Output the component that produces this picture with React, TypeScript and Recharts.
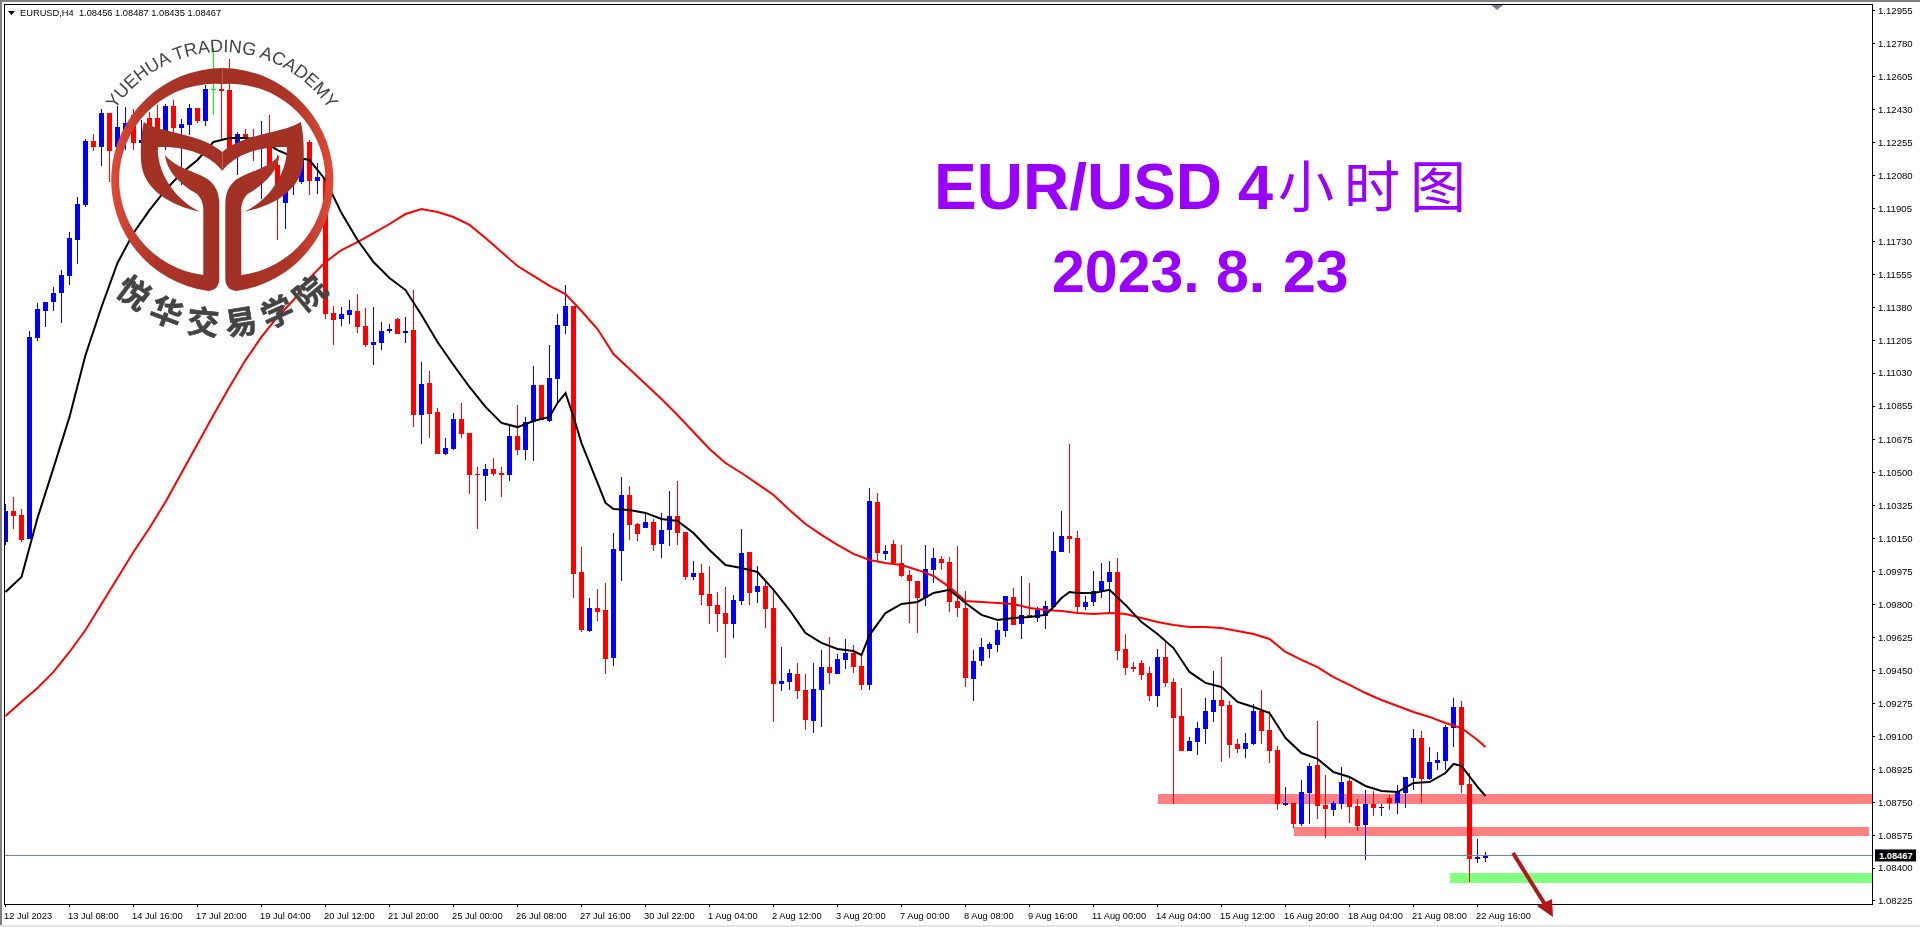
import { Bar, ComposedChart, Line, ReferenceArea, ReferenceLine, XAxis, YAxis } from "recharts";

// EURUSD H4, prices in points (1.08467 = 108467)
const open = [
  110132, 110297, 110276, 110148, 111216, 111360, 111408, 111455, 111546, 111737,
  111923, 112263, 112231, 112412, 112231, 112268, 112401, 112252, 112385, 112385,
  112268, 112449, 112332, 112348, 112438, 112369, 112539, 112539, 112534, 112242,
  112300, 112284, 112242, 112268, 112135, 111934, 112109, 112045, 112258, 112050,
  112066, 111349, 111317, 111339, 111360, 111280, 111179, 111190, 111253, 111317,
  111243, 111259, 110807, 110977, 110823, 110600, 110627, 110786, 110712, 110494,
  110483, 110520, 110499, 110488, 110696, 110621, 110770, 110967, 110775, 110999,
  111280, 111386, 109973, 109660, 109782, 109771, 109516, 110085, 110382, 110228,
  110207, 110239, 110122, 110196, 110271, 110186, 109947, 109968, 109856, 109798,
  109755, 109697, 109819, 110079, 109867, 109899, 109782, 109378, 109389, 109431,
  109346, 109182, 109346, 109468, 109431, 109506, 109543, 109474, 109373, 110345,
  110069, 110122, 110021, 109957, 109925, 109835, 109984, 110042, 110026, 109819,
  109782, 109405, 109500, 109564, 109585, 109660, 109840, 109697, 109745, 109729,
  109739, 109787, 110079, 110164, 110154, 109787, 109814, 109867, 109920, 109973,
  109564, 109468, 109490, 109437, 109314, 109521, 109389, 109208, 109022, 109070,
  109139, 109229, 109293, 109267, 109059, 109033, 109059, 109235, 109134, 109027,
  108735, 108746, 108634, 108799, 108948, 108735, 108709, 108741, 108863, 108730,
  108629, 108741, 108719, 108772, 108746, 108799, 108879, 109091, 108873, 108959,
  108969, 109144, 109256, 108847, 108448, 108456,
];
const high = [
  110334, 110372, 110308, 111253, 111402, 111408, 111487, 111578, 111779, 111965,
  112274, 112300, 112433, 112412, 112449, 112444, 112433, 112374, 112417, 112454,
  112460, 112481, 112380, 112460, 112438, 112560, 112757, 112603, 112699, 112311,
  112327, 112327, 112369, 112401, 112189, 112135, 112215, 112215, 112268, 112146,
  112082, 111386, 111381, 111418, 111450, 111376, 111381, 111301, 111291, 111323,
  111328, 111471, 111089, 111041, 110844, 110685, 110818, 110871, 110712, 110531,
  110547, 110579, 110531, 110749, 110860, 110797, 111068, 110967, 111179, 111344,
  111498, 111386, 110106, 109835, 109883, 109915, 110180, 110478, 110430, 110233,
  110287, 110255, 110287, 110403, 110457, 110186, 110032, 110016, 110005, 109867,
  109893, 109851, 110202, 110079, 110005, 109925, 109878, 109575, 109458, 109490,
  109431, 109490, 109559, 109628, 109537, 109617, 109585, 109532, 110419, 110393,
  110117, 110143, 110117, 109984, 109925, 110117, 110101, 110058, 110053, 110111,
  109872, 109559, 109623, 109601, 109707, 109846, 109888, 109952, 109915, 109787,
  109819, 110186, 110297, 110653, 110191, 109846, 109979, 110021, 110032, 110047,
  109644, 109495, 109506, 109468, 109564, 109607, 109410, 109357, 109097, 109176,
  109304, 109447, 109521, 109288, 109086, 109118, 109272, 109346, 109235, 109049,
  108831, 108746, 108868, 108959, 109182, 108895, 108756, 108937, 108889, 108767,
  108815, 108810, 108741, 108788, 108842, 108884, 109139, 109128, 109043, 109017,
  109160, 109304, 109288, 108905, 108555, 108487,
];
const low = [
  110117, 110202, 110132, 110148, 111200, 111275, 111360, 111296, 111498, 111609,
  111912, 112210, 112130, 112045, 112109, 112215, 112215, 112215, 112258, 112215,
  112215, 112295, 112029, 112295, 112359, 112343, 112401, 112268, 112162, 112082,
  112215, 112157, 111955, 112082, 111737, 111795, 111976, 112034, 111976, 111981,
  111317, 111179, 111280, 111291, 111243, 111168, 111073, 111153, 111243, 111238,
  111190, 110743, 110653, 110685, 110600, 110595, 110621, 110685, 110388, 110202,
  110350, 110483, 110372, 110457, 110595, 110568, 110563, 110781, 110770, 110876,
  111238, 109835, 109654, 109654, 109713, 109431, 109474, 109925, 110143, 110138,
  110207, 110085, 110047, 110111, 110117, 109931, 109931, 109798, 109697, 109654,
  109516, 109623, 109798, 109798, 109808, 109676, 109176, 109341, 109346, 109298,
  109134, 109118, 109150, 109378, 109431, 109458, 109437, 109346, 109346, 110032,
  110037, 110016, 109947, 109702, 109649, 109793, 109915, 109984, 109761, 109734,
  109362, 109288, 109474, 109516, 109548, 109628, 109692, 109617, 109734, 109707,
  109670, 109787, 110079, 110074, 109761, 109771, 109793, 109835, 109761, 109506,
  109426, 109442, 109399, 109288, 109256, 109362, 108741, 109022, 109022, 109001,
  109059, 109176, 108964, 108985, 109011, 108985, 109054, 109059, 108959, 108709,
  108730, 108613, 108624, 108634, 108661, 108560, 108677, 108714, 108640, 108597,
  108443, 108677, 108677, 108709, 108688, 108719, 108815, 108746, 108868, 108921,
  108921, 109043, 108799, 108326, 108427, 108435,
];
const close = [
  110297, 110271, 110143, 111222, 111370, 111408, 111455, 111551, 111748, 111928,
  112263, 112231, 112412, 112210, 112337, 112359, 112252, 112268, 112295, 112321,
  112449, 112332, 112353, 112438, 112369, 112539, 112539, 112529, 112215, 112300,
  112279, 112258, 112295, 112135, 111992, 112109, 112173, 112173, 112050, 112072,
  111344, 111312, 111344, 111365, 111275, 111179, 111195, 111253, 111264, 111238,
  111253, 110807, 110972, 110813, 110600, 110632, 110786, 110706, 110488, 110488,
  110520, 110494, 110488, 110696, 110621, 110770, 110967, 110781, 111004, 111285,
  111386, 109962, 109665, 109782, 109761, 109511, 110095, 110382, 110223, 110175,
  110239, 110117, 110196, 110271, 110180, 109947, 109968, 109851, 109793, 109750,
  109697, 109824, 110074, 109862, 109899, 109777, 109378, 109394, 109437, 109341,
  109187, 109351, 109468, 109437, 109511, 109543, 109468, 109373, 110350, 110074,
  110085, 110021, 109952, 109925, 109835, 109989, 110047, 110021, 109814, 109782,
  109410, 109500, 109575, 109591, 109665, 109846, 109692, 109745, 109734, 109771,
  109793, 110085, 110164, 110148, 109787, 109814, 109872, 109925, 109973, 109553,
  109463, 109458, 109426, 109314, 109521, 109384, 109197, 109022, 109075, 109144,
  109235, 109293, 109261, 109054, 109033, 109065, 109235, 109128, 109022, 108741,
  108746, 108634, 108804, 108943, 108730, 108714, 108746, 108857, 108725, 108624,
  108741, 108719, 108725, 108746, 108804, 108884, 109091, 108873, 108964, 108974,
  109150, 109256, 108842, 108448, 108459, 108467,
];

// moving averages, read every other bar plus the turning points
const fastBars = [
  0, 2, 4, 6, 8, 10, 12, 14, 16, 18, 20, 22, 24, 26, 28, 30, 32, 34, 36, 38, 40, 42, 44, 46, 48,
  50, 52, 54, 56, 58, 60, 62, 64, 66, 68, 69, 70, 71, 72, 74, 75, 76, 78, 80, 82, 84, 86, 88, 90,
  92, 94, 96, 98, 100, 102, 104, 106, 107, 108, 110, 112, 114, 116, 118, 120, 122, 124, 126, 128,
  130, 131, 132, 133, 134, 136, 138, 140, 142, 144, 146, 148, 150, 152, 154, 156, 158, 160, 162,
  164, 166, 168, 170, 172, 174, 176, 178, 180, 181, 182, 184, 185,
];
const fastMa = [
  109867, 109947, 110260, 110526, 110797, 111126, 111381, 111615, 111774, 111896, 112003, 112093,
  112162, 112258, 112279, 112279, 112268, 112215, 112178, 112162, 112056, 111880, 111737, 111620,
  111535, 111471, 111339, 111195, 111073, 110956, 110850, 110765, 110743, 110775, 110797, 110871,
  110924, 110797, 110658, 110446, 110340, 110308, 110303, 110287, 110255, 110244, 110180, 110090,
  110010, 109994, 109973, 109878, 109771, 109649, 109596, 109564, 109553, 109532, 109638, 109755,
  109803, 109814, 109862, 109878, 109808, 109745, 109718, 109729, 109734, 109745, 109787, 109835,
  109867, 109862, 109862, 109878, 109798, 109707, 109644, 109569, 109442, 109384, 109362, 109283,
  109256, 109224, 109091, 109011, 108980, 108910, 108884, 108836, 108810, 108804, 108852, 108857,
  108905, 108953, 108943, 108831, 108783,
];
const slowBars = [
  0, 2, 4, 6, 8, 10, 12, 14, 16, 18, 20, 22, 24, 26, 28, 30, 32, 34, 36, 38, 40, 42, 44, 46, 48,
  50, 52, 54, 56, 58, 60, 62, 64, 66, 68, 70, 72, 74, 76, 78, 80, 82, 84, 86, 88, 90, 92, 94, 96,
  98, 100, 102, 104, 106, 108, 110, 112, 114, 116, 118, 120, 122, 124, 126, 128, 130, 132, 134,
  136, 138, 140, 142, 144, 146, 148, 150, 152, 154, 156, 158, 160, 162, 164, 166, 168, 170, 172,
  174, 176, 178, 180, 182, 184, 185,
];
const slowMa = [
  109208, 109283, 109357, 109442, 109548, 109665, 109803, 109941, 110079, 110207, 110345, 110499,
  110653, 110807, 110956, 111099, 111222, 111328, 111418, 111535, 111620, 111684, 111726, 111774,
  111822, 111875, 111902, 111886, 111859, 111817, 111748, 111673, 111599, 111546, 111493, 111450,
  111360, 111264, 111131, 111052, 110972, 110892, 110807, 110717, 110627, 110552, 110499, 110441,
  110382, 110303, 110228, 110170, 110117, 110069, 110037, 110021, 110010, 109984, 109952, 109893,
  109819, 109814, 109808, 109803, 109782, 109771, 109766, 109755, 109750, 109755, 109750, 109729,
  109707, 109692, 109681, 109681, 109676, 109660, 109644, 109617, 109548, 109506, 109468, 109415,
  109373, 109330, 109293, 109261, 109229, 109203, 109171, 109144, 109080, 109043,
];

const timeLabels = [
  "12 Jul 2023", "13 Jul 08:00", "14 Jul 16:00", "17 Jul 20:00", "19 Jul 04:00", "20 Jul 12:00",
  "21 Jul 20:00", "25 Jul 00:00", "26 Jul 08:00", "27 Jul 16:00", "30 Jul 22:00", "1 Aug 04:00",
  "2 Aug 12:00", "3 Aug 20:00", "7 Aug 00:00", "8 Aug 08:00", "9 Aug 16:00", "11 Aug 00:00",
  "14 Aug 04:00", "15 Aug 12:00", "16 Aug 20:00", "18 Aug 04:00", "21 Aug 08:00", "22 Aug 16:00",
];
const priceTicks = [
  112955, 112780, 112605, 112430, 112255, 112080, 111905, 111730, 111555, 111380, 111205, 111030,
  110855, 110675, 110500, 110325, 110150, 109975, 109800, 109625, 109450, 109275, 109100, 108925,
  108750, 108575, 108400, 108225,
];
const lastPrice = 108467;

const fastByBar = new Map(fastBars.map((bar, i) => [bar, fastMa[i]]));
const slowByBar = new Map(slowBars.map((bar, i) => [bar, slowMa[i]]));
const rows = open.map((o, bar) => ({
  bar,
  open: o,
  high: high[bar],
  low: low[bar],
  close: close[bar],
  range: [low[bar], high[bar]],
  fast: fastByBar.get(bar) ?? null,
  slow: slowByBar.get(bar) ?? null,
}));

const candleColor = (o: number, c: number) => (c > o ? "#0000ff" : c < o ? "#ff0000" : "#00ff00");

function Candle(props: any) {
  const { x, width, y, height, payload } = props;
  const { open: o, high: h, low: l, close: c } = payload;
  const perPoint = height / Math.max(h - l, 1);
  const mid = Math.floor(x + width / 2);
  const bodyTop = Math.round(y + (h - Math.max(o, c)) * perPoint);
  const bodyBottom = Math.round(y + (h - Math.min(o, c)) * perPoint);
  const color = candleColor(o, c);
  return (
    <g shapeRendering="crispEdges" fill={color}>
      <rect x={mid} y={Math.round(y)} width={1} height={Math.max(Math.round(height), 1)} />
      <rect x={mid - 2} y={bodyTop} width={5} height={Math.max(bodyBottom - bodyTop, 1)} />
    </g>
  );
}

function Zone(props: any) {
  return (
    <rect
      x={props.x}
      y={props.y}
      width={props.width}
      height={props.height}
      fill={props.fill}
      shapeRendering="crispEdges"
      style={{ mixBlendMode: "multiply" }}
    />
  );
}

function TimeTick({ x, y, payload }: any) {
  return (
    <text x={x - 1.5} y={y + 10} fontSize={9.3} fill="#000" textAnchor="start">
      {timeLabels[payload.value / 8]}
    </text>
  );
}

function PriceTag({ viewBox }: any) {
  const y = viewBox.y;
  return (
    <g>
      <rect x={viewBox.x + viewBox.width + 3} y={y - 6} width={41} height={12} fill="#000" />
      <text x={viewBox.x + viewBox.width + 7} y={y + 3.4} fontSize={9.3} fontWeight={700} fill="#fff">
        {(lastPrice / 1e5).toFixed(5)}
      </text>
    </g>
  );
}

function Logo() {
  return (
    <g>
      <defs>
        <linearGradient id="ringFill" gradientUnits="userSpaceOnUse" x1={110} x2={222} y1={0} y2={0}>
          <stop offset="0" stopColor="#e04a38" />
          <stop offset="0.4" stopColor="#ad3527" />
          <stop offset="1" stopColor="#a03024" />
        </linearGradient>
        <path id="logoTop" d="M 94 180 A 128 128 0 0 1 350 180" />
        <path id="logoBottom" d="M 67 180 A 155 155 0 0 0 377 180" />
      </defs>
      {[false, true].map((mirror) => (
        <g key={String(mirror)} transform={mirror ? "translate(444.6 0) scale(-1 1)" : undefined} fill="url(#ringFill)">
          <path d="M 222.3 68 A 112 112 0 0 0 208.3 291 Q 219.3 290 219.3 278 L 219.3 205 C 219.3 190 214 181 200 175 C 185 169 172 164 165 155 C 167 172 180 184 197 194 C 201 198 203.3 203 203.3 210 L 203.3 275 A 96 96 0 0 1 222.3 84 Z" />
          <path fill="#a33225" d="M 143.7 122 C 160 133 200 133 222.3 152 L 222.3 171 C 212 157 190 146 157.7 147 C 157 170 172 198 200 211.7 C 172 206 142 190 141 160 C 140.5 148 141 135 143.7 122 Z" />
        </g>
      ))}
      <text fontFamily="Liberation Sans" fontSize={18} fill="#444">
        <textPath href="#logoTop" startOffset="50%" textAnchor="middle">
          YUEHUA TRADING ACADEMY
        </textPath>
      </text>
      <text fontFamily="Noto Sans CJK SC" fontWeight={700} fontSize={32} fill="#444" stroke="#444" strokeWidth={0.6} letterSpacing={9}>
        <textPath href="#logoBottom" startOffset="51%" textAnchor="middle">
          悦华交易学院
        </textPath>
      </text>
    </g>
  );
}

export default function App() {
  return (
    <div style={{ position: "absolute", left: 0, top: 0, width: 1920, height: 927, background: "#fff", overflow: "hidden", fontFamily: "Liberation Sans" }}>
      <ComposedChart
        width={1920}
        height={927}
        data={rows}
        margin={{ top: 4, right: 0, bottom: 0, left: 4 }}
        style={{ fontFamily: "Liberation Sans" }}
      >
        <XAxis
          type="number"
          dataKey="bar"
          domain={[-0.1875, 233.3125]}
          allowDataOverflow
          ticks={timeLabels.map((_, i) => i * 8)}
          interval={0}
          height={23}
          axisLine={false}
          tickSize={3}
          tickLine={{ stroke: "#000", shapeRendering: "crispEdges" }}
          tick={<TimeTick />}
        />
        <YAxis
          orientation="right"
          domain={[108209, 112991]}
          allowDataOverflow
          ticks={priceTicks}
          interval={0}
          width={48}
          axisLine={false}
          tickSize={3}
          tickMargin={3}
          tickLine={{ stroke: "#000", shapeRendering: "crispEdges" }}
          tick={{ fontSize: 9.6, fill: "#000" }}
          tickFormatter={(v: number) => (v / 1e5).toFixed(5)}
        />
        <ReferenceLine y={lastPrice} stroke="#708090" strokeWidth={1} label={<PriceTag />} />
        <Bar dataKey="range" barSize={5} shape={<Candle />} isAnimationActive={false} />
        <Line dataKey="slow" type="linear" stroke="#ff0000" strokeWidth={2} dot={false} connectNulls isAnimationActive={false} />
        <Line dataKey="fast" type="linear" stroke="#000000" strokeWidth={2} dot={false} connectNulls isAnimationActive={false} />
        <ReferenceArea x1={144.1} x2={233.3} y1={108741} y2={108794} fill="#ff8080" fillOpacity={1} shape={<Zone />} />
        <ReferenceArea x1={161} x2={232.9} y1={108571} y2={108618} fill="#ff8080" fillOpacity={1} shape={<Zone />} />
        <ReferenceArea x1={180.6} x2={233.3} y1={108321} y2={108374} fill="#80ff80" fillOpacity={1} shape={<Zone />} />
      </ComposedChart>

      <div style={{ position: "absolute", left: 4, top: 4, width: 1869, height: 901, boxSizing: "border-box", border: "1px solid #000" }} />
      <div style={{ position: "absolute", left: 0, top: 0, width: 2, height: 927, background: "#808080" }} />
      <div style={{ position: "absolute", left: 0, top: 0, width: 1920, height: 2, background: "#808080" }} />
      <div style={{ position: "absolute", left: 0, top: 925, width: 1920, height: 2, background: "#e4e4e4" }} />

      <svg width={1920} height={927} style={{ position: "absolute", left: 0, top: 0, pointerEvents: "none" }}>
        <polygon points="8,11 15,11 11.5,15" fill="#000" />
        <text x={20} y={16} fontFamily="Liberation Sans" fontSize={9.3} fill="#000" style={{ whiteSpace: "pre" }}>
          EURUSD,H4  1.08456 1.08487 1.08435 1.08467
        </text>
        <polygon points="1491,5 1503,5 1497,10" fill="#708090" />

        <Logo />

        <g fill="#9900ff" fontFamily="Liberation Sans" fontWeight={700}>
          <text x={934} y={209} fontSize={64}>EUR/USD</text>
          <text x={1238} y={209} fontSize={63}>4</text>
          <text x={1278} y={207} fontSize={56} fontWeight={400} fontFamily="Noto Sans CJK SC" letterSpacing={10}>小时图</text>
          <text x={1052} y={292} fontSize={59}>2023.</text>
          <text x={1216} y={292} fontSize={59}>8.</text>
          <text x={1283} y={292} fontSize={59}>23</text>
        </g>

        <line x1={1513} y1={853} x2={1546} y2={906} stroke="#b01818" strokeWidth={4} />
        <polygon points="1553,917 1537,906 1552,899" fill="#b01818" />
      </svg>
    </div>
  );
}
